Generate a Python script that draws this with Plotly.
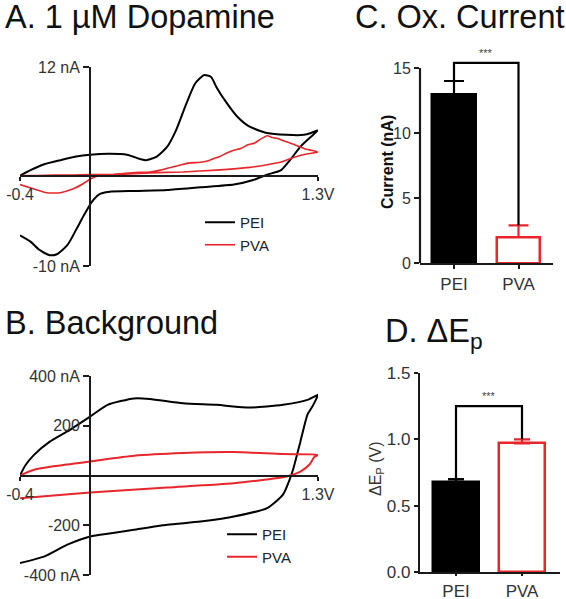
import plotly.graph_objects as go

W, H = 566, 599
FONT = "Liberation Sans, Arial, sans-serif"
RED = "#e8262b"
INK = "#1a1a1a"
TXT = "#333333"

# ---------------- data ----------------
# Panel A: 1 uM dopamine CVs (V, nA)
a_pei_v = [-0.40, -0.34, -0.27, -0.17, -0.08, 0.00, 0.11, 0.21, 0.29, 0.32,
           0.38, 0.44, 0.49, 0.55, 0.60, 0.65, 0.69, 0.72, 0.78, 0.84,
           0.91, 1.01, 1.12, 1.22, 1.26, 1.30,
           1.26, 1.20, 1.14, 1.09, 1.01, 0.93, 0.82, 0.63, 0.44, 0.25,
           0.11, 0.05, 0.01, -0.03, -0.08, -0.13, -0.19, -0.23, -0.29, -0.34,
           -0.40]
a_pei_i = [0.0, 0.6, 1.2, 1.7, 2.1, 2.3, 2.4, 2.3, 1.8, 1.7,
           2.1, 3.2, 5.0, 8.0, 10.2, 11.1, 10.9, 9.8, 8.0, 6.5,
           5.4, 4.7, 4.5, 4.5, 4.7, 5.0,
           4.3, 3.2, 1.7, 0.6, 0.1, -0.5, -1.0, -1.3, -1.6, -1.7,
           -1.8, -2.1, -2.9, -4.2, -6.0, -7.7, -8.7, -8.8, -8.2, -7.3,
           -6.6]
a_pva_v = [-0.40, -0.30, -0.20, -0.10, 0.00, 0.11, 0.20, 0.28, 0.34, 0.40,
           0.44, 0.48, 0.52, 0.57, 0.62, 0.67, 0.71, 0.74, 0.78, 0.82,
           0.86, 0.90, 0.94, 0.97, 1.01, 1.04, 1.07, 1.11, 1.14, 1.18,
           1.22, 1.26, 1.30,
           1.24, 1.16, 1.09, 1.01, 0.91, 0.72, 0.53, 0.34, 0.15, 0.06,
           0.01, -0.04, -0.10, -0.17, -0.25, -0.32, -0.40]
a_pva_i = [0.0, 0.0, 0.05, 0.05, 0.1, 0.1, 0.25, 0.35, 0.4, 0.6,
           0.8, 1.0, 1.2, 1.4, 1.45, 1.6, 1.9, 2.1, 2.5, 2.8,
           3.0, 3.4, 3.6, 4.0, 4.4, 4.2, 4.1, 3.8, 3.6, 3.3,
           3.0, 2.8, 2.6,
           2.4, 2.0, 1.5, 1.2, 0.9, 0.6, 0.4, 0.3, 0.1, 0.0,
           -0.3, -0.9, -1.5, -1.9, -1.9, -1.5, -1.0]

# Panel B: background CVs (V, nA)
b_pei_v = [-0.40, -0.37, -0.32, -0.23, -0.13, 0.00, 0.10, 0.25, 0.34, 0.53,
           0.72, 0.91, 1.10, 1.24, 1.29, 1.30,
           1.27, 1.24, 1.20, 1.16, 1.14, 1.10, 1.01, 0.82, 0.63, 0.44,
           0.25, 0.12, 0.00, -0.13, -0.26, -0.40]
b_pei_i = [0, 40, 83, 136, 177, 237, 284, 310, 308, 290,
           284, 273, 284, 304, 321, 325,
           280, 245, 137, 29, -13, -77, -131, -165, -185, -198,
           -218, -232, -245, -278, -325, -352]
b_pva_v = [-0.40, -0.32, -0.20, 0.00, 0.25, 0.53, 0.82, 1.10, 1.30,
           1.28, 1.25, 1.20, 1.14, 1.10, 0.82, 0.44, 0.00, -0.40]
b_pva_i = [0, 23, 38, 56, 79, 90, 94, 86, 83,
           75, 43, 16, 0, -7, -31, -48, -68, -91]

# Panels C and D: bar summaries
groups = ["PEI", "PVA"]
c_mean = [13.0, 2.0]
c_err = [1.0, 0.9]
c_sig = 15.4
d_mean = [0.68, 0.97]
d_err = [0.02, 0.03]
d_sig = 1.25

a_xticks = [-0.4, 1.3]
a_xtext = ["-0.4", "1.3V"]
a_yticks = [12, -10]
a_ytext = ["12 nA", "-10 nA"]
b_yticks = [400, 200, -200, -400]
b_ytext = ["400 nA", "200", "-200", "-400 nA"]
c_yticks = [0, 5, 10, 15]
d_yticks = [0.0, 0.5, 1.0, 1.5]
d_ytext = ["0.0", "0.5", "1.0", "1.5"]


# ---------------- layout helpers ----------------
def xdom(p0, p1):
    return [p0 / W, p1 / W]


def ydom(top, bot):
    return [1 - bot / H, 1 - top / H]


def frac(v, lo, hi, dom):
    return dom[0] + (v - lo) / (hi - lo) * (dom[1] - dom[0])


fig = go.Figure()

# Panel A traces
fig.add_trace(go.Scatter(x=a_pei_v, y=a_pei_i, mode="lines", name="PEI",
                         line=dict(color="black", width=2, shape="spline", smoothing=0.6),
                         xaxis="x", yaxis="y", legend="legend"))
fig.add_trace(go.Scatter(x=a_pva_v, y=a_pva_i, mode="lines", name="PVA",
                         line=dict(color=RED, width=1.6, shape="spline", smoothing=0.4),
                         xaxis="x", yaxis="y", legend="legend"))
# Panel B traces
fig.add_trace(go.Scatter(x=b_pei_v, y=b_pei_i, mode="lines", name="PEI",
                         line=dict(color="black", width=2, shape="spline", smoothing=0.6),
                         xaxis="x2", yaxis="y2", legend="legend2"))
fig.add_trace(go.Scatter(x=b_pva_v, y=b_pva_i, mode="lines", name="PVA",
                         line=dict(color=RED, width=2, shape="spline", smoothing=0.6),
                         xaxis="x2", yaxis="y2", legend="legend2"))


def add_bars(means, errs, sig, xa, ya, width, capw):
    fill = ["black", "white"]
    edge = ["black", RED]
    for k in range(2):
        fig.add_trace(go.Bar(
            x=[k], y=[means[k]], width=width, xaxis=xa, yaxis=ya, showlegend=False,
            marker=dict(color=fill[k], line=dict(color=edge[k], width=2.5)),
            error_y=dict(type="data", array=[errs[k]], arrayminus=[0], symmetric=False,
                         color=edge[k], thickness=2.2, width=capw)))
    fig.add_trace(go.Scatter(
        x=[0, 0, 1, 1],
        y=[means[0] + errs[0], sig, sig, means[1] + errs[1]],
        mode="lines", line=dict(color="black", width=2.2), showlegend=False,
        xaxis=xa, yaxis=ya))


add_bars(c_mean, c_err, c_sig, "x3", "y3", 0.68, 10)
add_bars(d_mean, d_err, d_sig, "x4", "y4", 0.70, 8)

# domains
A_x, A_y = xdom(20, 318), ydom(67, 266)
B_x, B_y = xdom(20, 318), ydom(376, 575)
C_x = xdom(420, 553)
C_top = 16.5
C_y = ydom(263 - C_top * 13.0, 263)
D_x, D_y = xdom(420, 560), ydom(373, 572)

cv_common = dict(showgrid=False, zeroline=False, showline=True, linecolor=INK, linewidth=2,
                 ticks="outside", tickwidth=2, tickcolor=INK, automargin=False,
                 tickfont=dict(size=16, color=TXT), tickmode="array")

bar_common = dict(showgrid=False, zeroline=False, linecolor=INK, linewidth=2.2,
                  ticks="outside", tickwidth=2, tickcolor=INK, tickmode="array",
                  automargin=False)

fig.update_layout(
    width=W, height=H,
    margin=dict(l=0, r=0, t=0, b=0, autoexpand=False),
    paper_bgcolor="white", plot_bgcolor="rgba(0,0,0,0)",
    font=dict(family=FONT, color=TXT),
    bargap=0,
    xaxis=dict(domain=A_x, range=[-0.4, 1.3], anchor="free",
               position=frac(0, -10, 12, A_y), tickvals=a_xticks, ticktext=a_xtext,
               ticklen=4, **cv_common),
    yaxis=dict(domain=A_y, range=[-10, 12], anchor="free",
               position=frac(0, -0.4, 1.3, A_x), tickvals=a_yticks, ticktext=a_ytext,
               ticklen=6, **cv_common),
    xaxis2=dict(domain=B_x, range=[-0.4, 1.3], anchor="free",
                position=frac(0, -400, 400, B_y), tickvals=a_xticks, ticktext=a_xtext,
                ticklen=4, **cv_common),
    yaxis2=dict(domain=B_y, range=[-400, 400], anchor="free",
                position=frac(0, -0.4, 1.3, B_x), tickvals=b_yticks, ticktext=b_ytext,
                ticklen=6, **cv_common),
    xaxis3=dict(domain=C_x, range=[-34 / 64.5, 1 + 34.5 / 64.5], anchor="y3",
                showline=True, tickvals=[0, 1], ticktext=groups, ticklen=4,
                tickfont=dict(size=17, color=TXT), **bar_common),
    yaxis3=dict(domain=C_y, range=[0, C_top], anchor="x3", showline=False,
                tickvals=c_yticks, ticklen=5, tickfont=dict(size=16, color=TXT),
                **bar_common),
    xaxis4=dict(domain=D_x, range=[-36 / 66, 1 + 38 / 66], anchor="y4",
                showline=True, tickvals=[0, 1], ticktext=groups, ticklen=2,
                tickfont=dict(size=17, color=TXT), **bar_common),
    yaxis4=dict(domain=D_y, range=[0, 1.5], anchor="x4", showline=True,
                tickvals=d_yticks, ticktext=d_ytext, ticklen=4,
                tickfont=dict(size=17, color=TXT), **bar_common),
    legend=dict(x=200 / W, y=1 - 206 / H, xanchor="left", yanchor="top",
                font=dict(size=15, color="#222"), bgcolor="rgba(0,0,0,0)",
                tracegroupgap=0, itemwidth=30),
    legend2=dict(x=222 / W, y=1 - 518 / H, xanchor="left", yanchor="top",
                 font=dict(size=15, color="#222"), bgcolor="rgba(0,0,0,0)",
                 tracegroupgap=0, itemwidth=30),
    shapes=[dict(type="line", xref="x3 domain", yref="y3", x0=0, x1=0, y0=0, y1=15,
                 line=dict(color=INK, width=2.2))],
)

title_font = dict(size=32.5, color="#111", family=FONT)
titles = [("A. 1 µM Dopamine", 3, 17), ("C. Ox. Current", 353, 17),
          ("B. Background", 3, 323), ("D. ΔE<sub>p</sub>", 383, 333)]
ann = []
for txt, px, py in titles:
    ann.append(dict(text=txt, x=px / W, y=1 - py / H, xref="paper", yref="paper",
                    xanchor="left", yanchor="middle", showarrow=False, font=title_font))
# rotated y-axis titles of the bar panels
ann.append(dict(text="<b>Current (nA)</b>", x=387 / W, y=1 - 162 / H, xref="paper",
                yref="paper", xanchor="center", yanchor="middle", textangle=-90,
                showarrow=False, font=dict(size=16, color="#111")))
ann.append(dict(text="ΔE<sub>P</sub> (V)", x=376 / W, y=1 - 468 / H, xref="paper",
                yref="paper", xanchor="center", yanchor="middle", textangle=-90,
                showarrow=False, font=dict(size=16, color=TXT)))
ann.append(dict(text="***", x=0.5, y=c_sig, xref="x3", yref="y3", yanchor="bottom",
                yshift=2, showarrow=False, font=dict(size=11, color="#444")))
ann.append(dict(text="***", x=0.5, y=d_sig, xref="x4", yref="y4", yanchor="bottom",
                yshift=2, showarrow=False, font=dict(size=11, color="#444")))
fig.update_layout(annotations=ann)

fig.write_html("out.html", config={"displayModeBar": False},
               post_script="document.body.style.margin='0px';document.body.style.overflow='hidden';")
